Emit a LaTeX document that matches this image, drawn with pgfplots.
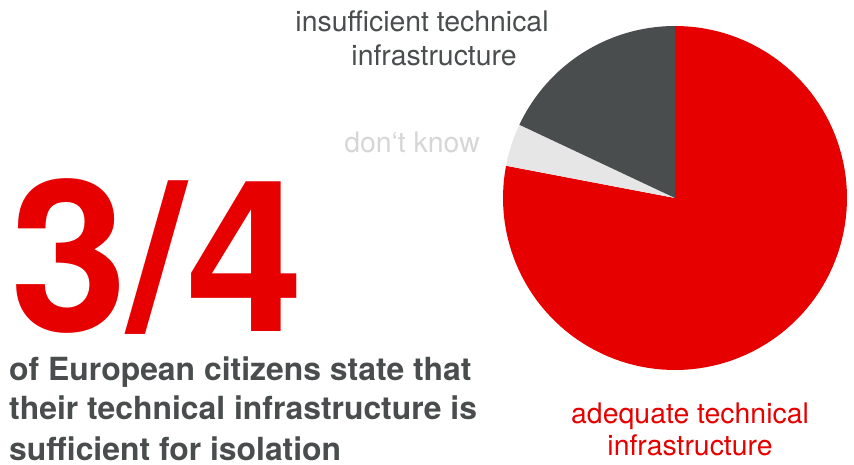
\documentclass[border=0pt]{standalone}
\usepackage{pgfplots}
\pgfplotsset{compat=1.18}
\usepackage{fontspec}
\setmainfont{TeX Gyre Heros}
\definecolor{vfred}{HTML}{E60000}
\definecolor{vfdark}{HTML}{4A4D4E}
\definecolor{vflight}{HTML}{E6E6E6}
\definecolor{vflabel}{HTML}{D6D6D6}
% shares in percent: adequate, don't know, insufficient
\def\vAdequate{78}
\def\vDontKnow{4}
\def\vInsufficient{18}
\begin{document}
\begin{tikzpicture}
\path[use as bounding box] (0,0) rectangle (854bp,465bp);
\pgfmathsetmacro{\aStart}{90}
\pgfmathsetmacro{\aB}{90-3.6*\vAdequate}
\pgfmathsetmacro{\aC}{\aB-3.6*\vDontKnow}
\pgfmathsetmacro{\aD}{\aC-3.6*\vInsufficient}
\begin{axis}[
  hide axis, scale only axis,
  width=344bp, height=344bp,
  xmin=-1, xmax=1, ymin=-1, ymax=1,
  at={(675bp,267bp)}, anchor=center,
  clip=false,
]
\addplot[fill=vfred, draw=none, domain=\aB:\aStart, samples=120] ({cos(x)},{sin(x)}) -- (axis cs:0,0) -- cycle;
\addplot[fill=vflight, draw=none, domain=\aC:\aB, samples=20] ({cos(x)},{sin(x)}) -- (axis cs:0,0) -- cycle;
\addplot[fill=vfdark, draw=none, domain=\aD:\aC, samples=40] ({cos(x)},{sin(x)}) -- (axis cs:0,0) -- cycle;
\end{axis}
% big number
\node[anchor=base west, inner sep=0, text depth=0pt, text=vfred, font=\fontsize{212}{212}\selectfont\bfseries] at (10bp,133bp) {3/4};
% statement
\begin{scope}[every node/.style={anchor=base west, inner sep=0, text=vfdark, font=\fontsize{32}{32}\selectfont\bfseries}]
\node at (9bp,84bp) {of European citizens state that};
\node at (9bp,45bp) {their technical infrastructure is};
\node at (9bp,5bp) {sufficient for isolation};
\end{scope}
% labels
\begin{scope}[every node/.style={anchor=base, inner sep=0, font=\fontsize{28.5}{28.5}\selectfont}]
\node[text=vfdark] at (422bp,433bp) {insufficient technical};
\node[text=vfdark] at (434bp,399bp) {infrastructure};
\node[text=vflabel] at (412bp,312bp) {don‘t know};
\node[text=vfred] at (690bp,41bp) {adequate technical};
\node[text=vfred] at (690bp,10bp) {infrastructure};
\end{scope}
\end{tikzpicture}
\end{document}
